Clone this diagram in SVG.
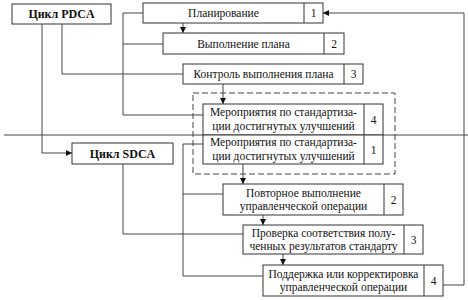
<svg xmlns="http://www.w3.org/2000/svg" width="468" height="300" viewBox="0 0 468 300">
<defs>
<marker id="ah" viewBox="0 0 8 8" refX="8" refY="4" markerWidth="7" markerHeight="6" orient="auto" markerUnits="userSpaceOnUse">
<path d="M0,0 L8,4 L0,8 z" fill="#111"/>
</marker>
<style>
rect.b{fill:#fff;stroke:#333;stroke-width:1}
line.d{stroke:#333;stroke-width:1;fill:none}
.c{stroke:#444;stroke-width:1;fill:none}
.a{marker-end:url(#ah)}
text{font-family:'Liberation Serif','Times New Roman','DejaVu Serif',serif;font-size:11.5px;fill:#111;text-anchor:middle}
text.h{font-weight:bold;font-size:12px}
.dash{fill:none;stroke:#444;stroke-width:1;stroke-dasharray:6,3}
</style>
</defs>
<rect width="468" height="300" fill="#fff"/>
<g id="connectors">
<path class="c" d="M4 135 H468"/>
<path class="c a" d="M42 24 V153 H72"/>
<path class="c" d="M62 24 V74 H183"/>
<path class="c" d="M143 13 H123 V115 H203 M123 44 H163"/>
<path class="c a" d="M183 23 V33"/>
<path class="c a" d="M223 84 V104"/>
<path class="c a" d="M243 164 V184"/>
<path class="c a" d="M263 215 V225"/>
<path class="c a" d="M283 254 V265"/>
<path class="c" d="M123 164 V234 H243"/>
<path class="c" d="M203 144 H183 V276 H263 M183 194 H223"/>
<path class="c a" d="M443 285 H464 V13 H323"/>
</g>
<g id="group-standard">
<rect class="dash" x="193" y="93" width="202" height="81"/>
</g>
<g id="pdca">
<rect class="b" x="12" y="4" width="99" height="20"/>
<text class="h" x="61.5" y="18">Цикл PDCA</text>
</g>
<g id="sdca">
<rect class="b" x="72" y="143" width="101" height="21"/>
<text class="h" x="122.5" y="158">Цикл SDCA</text>
</g>
<g id="plan">
<rect class="b" x="143" y="3" width="180" height="20"/>
<line class="d" x1="304" y1="3" x2="304" y2="23"/>
<text x="223.5" y="17">Планирование</text>
<text x="313.5" y="17">1</text>
</g>
<g id="do">
<rect class="b" x="163" y="33" width="181" height="21"/>
<line class="d" x1="324" y1="33" x2="324" y2="54"/>
<text x="243.5" y="47.5">Выполнение плана</text>
<text x="334" y="47.5">2</text>
</g>
<g id="check">
<rect class="b" x="183" y="64" width="180" height="20"/>
<line class="d" x1="344" y1="64" x2="344" y2="84"/>
<text x="263.5" y="78">Контроль выполнения плана</text>
<text x="353.5" y="78">3</text>
</g>
<g id="act4">
<rect class="b" x="203" y="104" width="180" height="31"/>
<line class="d" x1="364" y1="104" x2="364" y2="135"/>
<text x="283.5" y="116">Мероприятия по стандартиза-</text>
<text x="283.5" y="130">ции достигнутых улучшений</text>
<text x="373.5" y="123.5">4</text>
</g>
<g id="std1">
<rect class="b" x="203" y="135" width="180" height="29"/>
<line class="d" x1="364" y1="135" x2="364" y2="164"/>
<text x="283.5" y="146">Мероприятия по стандартиза-</text>
<text x="283.5" y="160">ции достигнутых улучшений</text>
<text x="373.5" y="153.5">1</text>
</g>
<g id="repeat2">
<rect class="b" x="223" y="184" width="180" height="31"/>
<line class="d" x1="384" y1="184" x2="384" y2="215"/>
<text x="303.5" y="197">Повторное выполнение</text>
<text x="303.5" y="210">управленческой операции</text>
<text x="393.5" y="203.5">2</text>
</g>
<g id="verify3">
<rect class="b" x="243" y="225" width="180" height="29"/>
<line class="d" x1="404" y1="225" x2="404" y2="254"/>
<text x="323.5" y="236.5">Проверка соответствия полу-</text>
<text x="323.5" y="250">ченных результатов стандарту</text>
<text x="413.5" y="243.5">3</text>
</g>
<g id="support4">
<rect class="b" x="263" y="265" width="180" height="31"/>
<line class="d" x1="424" y1="265" x2="424" y2="296"/>
<text x="343.5" y="278">Поддержка или корректировка</text>
<text x="343.5" y="291">управленческой операции</text>
<text x="433.5" y="284.5">4</text>
</g>
</svg>
